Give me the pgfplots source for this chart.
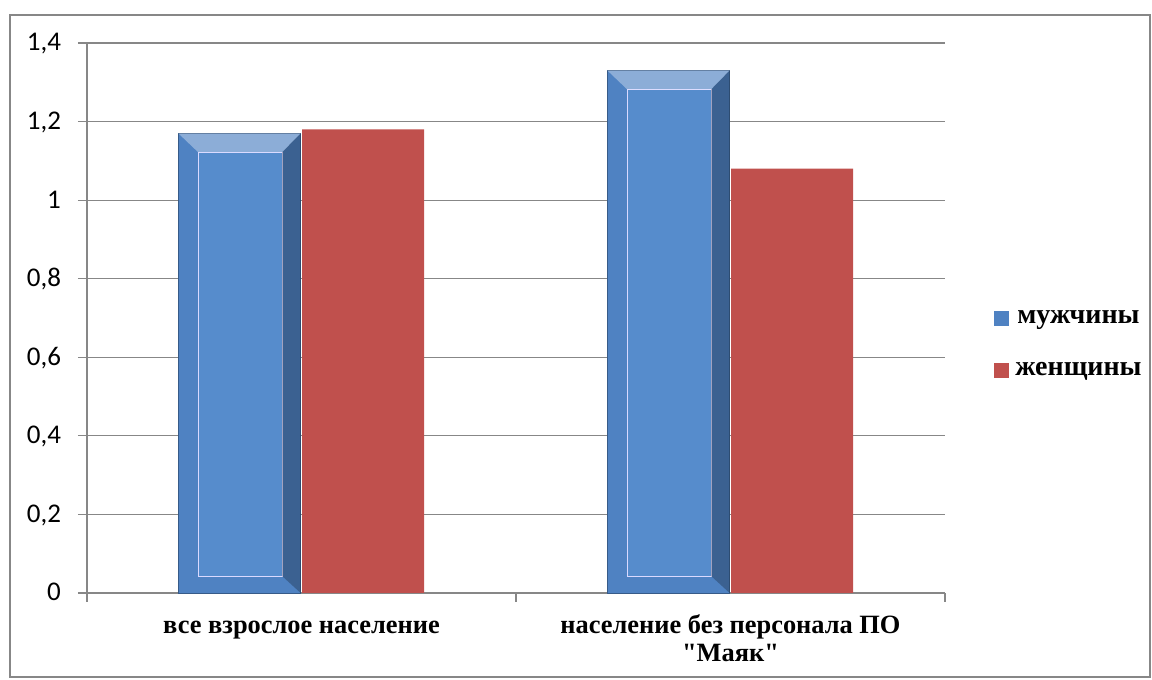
\documentclass[border=0pt]{standalone}
\usepackage{pgfplots}
\pgfplotsset{compat=1.18}
\usepackage{fontspec}
\setmainfont{Liberation Serif}
\newfontfamily\calibri{Carlito}
\definecolor{barblue}{HTML}{4F82C2}
\definecolor{innerblue}{HTML}{568CCC}
\definecolor{barred}{HTML}{C0504D}
\definecolor{gridgray}{HTML}{878787}
\begin{document}
\begin{tikzpicture}
\path[use as bounding box] (0pt,0pt) rectangle (576pt,340pt);
\draw[gridgray, line width=0.8pt] (5pt,1.5pt) rectangle (575pt,332.5pt);
\begin{axis}[
  at={(43.5pt,43.5pt)}, anchor=south west,
  scale only axis, width=429pt, height=275pt,
  xmin=-0.5, xmax=1.5, ymin=0, ymax=1.4,
  xtick={0,1},
  xticklabels={все взрослое население, {население без персонала ПО\\\textquotedbl Маяк\textquotedbl}},
  typeset ticklabels with strut,
  x tick label style={font=\bfseries\fontsize{13.2}{14}\selectfont, align=center, yshift=-2.5pt, anchor=north},
  major x tick style={draw=none},
  minor xtick={-0.5,0.5,1.5},
  minor x tick style={gridgray, line width=0.6pt},
  minor tick length=4.5pt,
  ytick={0,0.2,...,1.4},
  ymajorgrids,
  grid style={gridgray, line width=0.6pt},
  major tick length=4.5pt,
  y tick style={gridgray, line width=0.6pt},
  tick align=outside,
  axis x line*=bottom, axis y line*=left,
  axis line style={gridgray, line width=0.6pt, -},
  y tick label style={font=\calibri\fontsize{13.5}{15}\selectfont, xshift=-5pt, yshift=-1pt},
  /pgf/number format/assume math mode=true,
  /pgf/number format/use comma,
  yticklabel style={/pgf/number format/fixed},
  legend style={at={(1.050,0.451)}, anchor=west, draw=none, fill=none,
    font=\bfseries\fontsize{14}{16}\selectfont, row sep=18pt,
    nodes={inner xsep=3pt, inner ysep=0pt},
    /tikz/every even column/.append style={column sep=0pt}},
  legend image code/.code={\draw[#1, draw=none] (0pt,-3.75pt) rectangle (7.5pt,3.75pt);},
  clip=false,
]
\addplot[ybar, bar width=61pt, bar shift=-31.25pt, fill=barblue, draw=barblue!70!black, line width=0.4pt]
  coordinates {(0,1.17) (1,1.33)};
\addlegendentry{мужчины}
\addplot[ybar, bar width=61pt, bar shift=30.75pt, fill=barred, draw=none]
  coordinates {(0,1.18) (1,1.08)};
\addlegendentry{женщины}
% bevel inner faces of the blue bars
\addplot[forget plot, fill=innerblue, draw=blue!15!white, line width=0.6pt]
  coordinates {(-0.241,0.043) (-0.241,1.122) (-0.045,1.122) (-0.045,0.043)} -- cycle;
\addplot[forget plot, fill=innerblue, draw=blue!15!white, line width=0.6pt]
  coordinates {(0.759,0.043) (0.759,1.282) (0.955,1.282) (0.955,0.043)} -- cycle;
% top bevel highlight
\addplot[forget plot, fill=white, fill opacity=0.35, draw=none]
  coordinates {(-0.287,1.17) (-0.002,1.17) (-0.045,1.122) (-0.241,1.122)} -- cycle;
\addplot[forget plot, fill=white, fill opacity=0.35, draw=none]
  coordinates {(0.713,1.33) (0.998,1.33) (0.955,1.282) (0.759,1.282)} -- cycle;
% right bevel shadow
\addplot[forget plot, fill=black, fill opacity=0.25, draw=none]
  coordinates {(-0.045,0.043) (-0.045,1.122) (-0.002,1.17) (-0.002,0)} -- cycle;
\addplot[forget plot, fill=black, fill opacity=0.25, draw=none]
  coordinates {(0.955,0.043) (0.955,1.282) (0.998,1.33) (0.998,0)} -- cycle;
\end{axis}
\end{tikzpicture}
\end{document}
